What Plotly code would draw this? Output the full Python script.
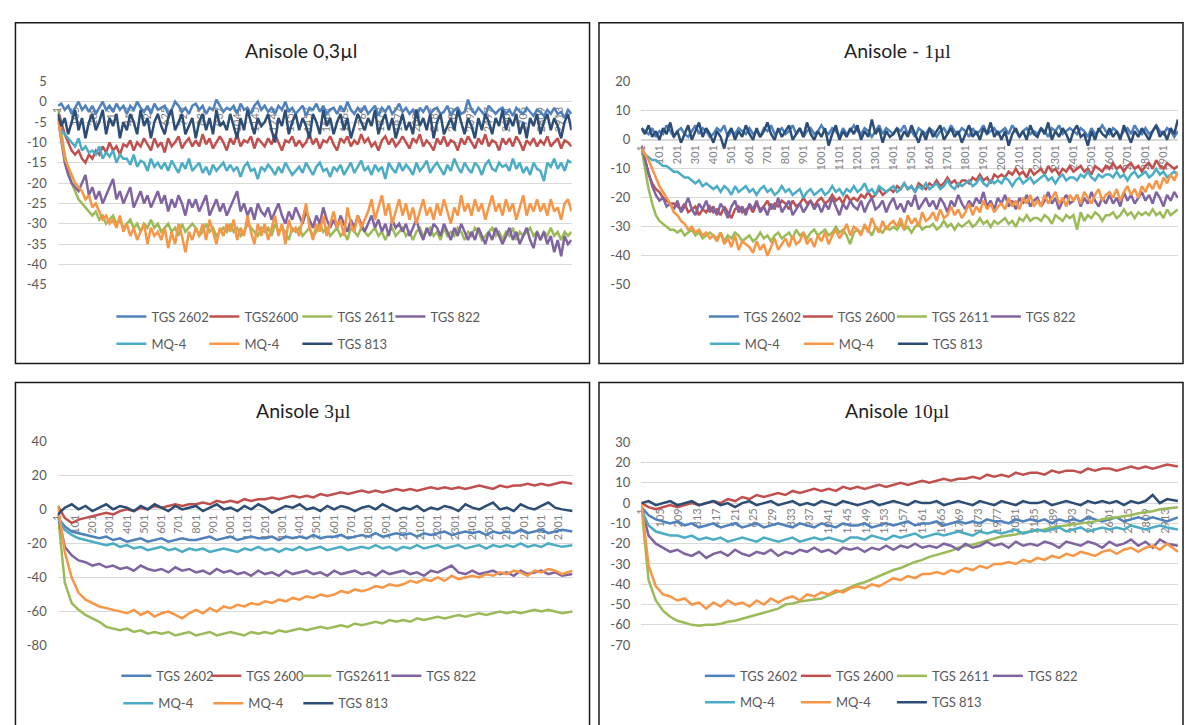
import plotly.graph_objects as go

W, H = 1186, 725

# ---------------- data ----------------
# sample (category) index of each stored reading
SAMPLES_20 = list(range(1, 2982, 20))          # 150 readings, panels 1-2
SAMPLES_40 = [1, 41, 81, 121, 161, 201, 241, 281, 321, 361, 401, 441, 481, 521, 561,
              601, 641, 681, 721, 761, 801, 841, 881, 921, 961, 1001, 1041, 1081, 1121, 1161,
              1201, 1241, 1281, 1321, 1361, 1401, 1441, 1481, 1521, 1561, 1601, 1641, 1681, 1721, 1761,
              1801, 1841, 1881, 1921, 1961, 2001, 2041, 2081, 2121, 2161, 2201, 2241, 2281, 2321, 2361,
              2401, 2441, 2481, 2521, 2561, 2601, 2641, 2681, 2721, 2761, 2801, 2841, 2881, 2921, 2981]

COLORS = ["#4F81BD", "#C0504D", "#9BBB59", "#8064A2", "#4BACC6", "#F79646", "#2C4D75"]

TITLES = [("Anisole 0,3µl", ""), ("Anisole - ", "1µl"), ("Anisole ", "3µl"), ("Anisole ", "10µl")]

NAMES_1 = ["TGS 2602", "TGS2600", "TGS 2611", "TGS 822", "MQ-4", "MQ-4", "TGS 813"]
NAMES_2 = ["TGS 2602", "TGS 2600", "TGS 2611", "TGS 822", "MQ-4", "MQ-4", "TGS 813"]
NAMES_3 = ["TGS 2602", "TGS 2600", "TGS2611", "TGS 822", "MQ-4", "MQ-4", "TGS 813"]
NAMES_4 = ["TGS 2602", "TGS 2600", "TGS 2611", "TGS 822", "MQ-4", "MQ-4", "TGS 813"]

XT_104 = ["1", "105", "209", "313", "417", "521", "625", "729", "833", "937", "1041", "1145",
          "1249", "1353", "1457", "1561", "1665", "1769", "1873", "1977", "2081", "2185", "2289",
          "2393", "2497", "2601", "2705", "2809", "2913"]
XT_100 = ["1", "101", "201", "301", "401", "501", "601", "701", "801", "901", "1001", "1101",
          "1201", "1301", "1401", "1501", "1601", "1701", "1801", "1901", "2001", "2101", "2201",
          "2301", "2401", "2501", "2601", "2701", "2801", "2901"]

YT_1 = ["5", "0", "-5", "-10", "-15", "-20", "-25", "-30", "-35", "-40", "-45"]
YT_2 = ["20", "10", "0", "-10", "-20", "-30", "-40", "-50"]
YT_3 = ["40", "20", "0", "-20", "-40", "-60", "-80"]
YT_4 = ["30", "20", "10", "0", "-10", "-20", "-30", "-40", "-50", "-60", "-70"]

# Panel 1: Anisole 0,3µl  (150 readings)
P1_TGS2602 = [
    -1, -0.5, -2, -1, -3, -1.5, 0, -2, -1, -2.5,
    -1, -3, -1.5, 0, -2, -1, -2.5, -0.5, -2, -1,
    -3, -1, -2, 0, -1.5, -2.5, -1, -3, -0.5, -2,
    -1.5, -1, -3, -2, 0, -1, -2.5, -1.5, -3, -1,
    -0.5, -2, -1, -3, -1.5, -2, 0.5, -1, -2.5, -1.5,
    -2, -1, -3, -0.5, -2, -1.5, -3, -1, 0, -2,
    -1, -2.5, -1.5, -3, -1, -2, 0, -2.5, -1.5, -3,
    -2, -1, -3.5, -1.5, -2, -0.5, -2.5, -1, -3, -2,
    -1.5, -3, -1, -2.5, 0, -2, -3, -1.5, -2.5, -1,
    -3, -2, -1, -3.5, -1.5, -2.5, -1, -3, -2, -0.5,
    -2.5, -1.5, -3, -2, -4, -1.5, -2.5, -1, -3, -2,
    -1.5, -3, -2.5, -1, -3.5, -2, -1.5, -3, -2.5, 0.5,
    -2, -3, -1.5, -2.5, -3.5, -1, -2, -3, -2, -1.5,
    -3, -2, -3.5, -1.5, -2.5, -3, -1.5, -2.5, -3.5, -2,
    -2.5, -3.5, -2, -3, -1.5, -3, -2.5, -4, -2, -3]
P1_TGS2600 = [
    -2, -5, -8, -10, -12, -13, -12, -14, -15, -13,
    -14, -12, -13, -11, -12.5, -10, -12, -11, -13, -10.5,
    -11, -9.5, -12, -10, -11, -9, -10.5, -12, -9, -11,
    -10, -12.5, -9, -11, -10, -8.5, -11.5, -10, -9, -11,
    -9.5, -11, -8, -10.5, -9, -11.5, -10, -8.5, -10, -12,
    -9, -10.5, -8, -11, -9.5, -10, -8.5, -11.5, -9, -10,
    -11, -9, -10.5, -8, -10, -12, -9.5, -10, -8.5, -11,
    -9.5, -11, -10, -8, -10.5, -9, -11.5, -9.5, -10, -8.5,
    -10.5, -12, -9, -10, -8.5, -11, -9.5, -10.5, -8, -10,
    -9, -11, -10, -12, -9.5, -8.5, -10.5, -9, -11, -10,
    -8.5, -10, -11.5, -9, -10, -8, -11, -9.5, -10.5, -12,
    -9, -10.5, -8.5, -11, -9.5, -10, -12, -9, -10.5, -8.5,
    -10, -11.5, -9, -10.5, -8, -11, -9.5, -10, -12, -9,
    -10.5, -9, -11, -8.5, -10, -12, -9.5, -10.5, -9, -11,
    -9.5, -10.5, -8.5, -11, -10, -9, -11.5, -9.5, -10, -11]
P1_TGS2611 = [
    -2, -8, -13, -17, -20, -22, -24, -25, -26, -27,
    -28, -27, -29, -28, -30, -29, -28, -30, -29, -31,
    -30, -29, -31, -30, -32, -30, -31, -29, -31, -30,
    -32, -31, -30, -32, -31, -33, -30, -32, -31, -30,
    -31, -33, -32, -30, -32, -31, -33, -32, -31, -32,
    -30, -32, -31, -33, -32, -30, -31, -32, -33, -31,
    -32, -31, -33, -30, -32, -31, -32, -34, -31, -32,
    -31, -33, -32, -31, -33, -32, -30, -32, -31, -33,
    -32, -31, -33, -32, -34, -31, -32, -33, -31, -32,
    -33, -32, -31, -33, -32, -34, -32, -31, -33, -32,
    -31, -33, -32, -34, -32, -31, -33, -32, -31, -33,
    -32, -34, -31, -33, -32, -33, -31, -32, -34, -32,
    -33, -31, -32, -34, -33, -32, -31, -33, -32, -34,
    -32, -33, -31, -34, -32, -33, -32, -31, -33, -32,
    -34, -32, -33, -31, -33, -32, -34, -32, -33, -32]
P1_TGS822 = [
    -4, -10, -15, -18, -20, -21, -22, -20, -18, -23,
    -21, -24, -22, -25, -23, -21, -19, -24, -22, -25,
    -23, -21, -26, -24, -22, -25, -23, -26, -24, -22,
    -25, -23, -27, -24, -26, -23, -25, -28, -24, -26,
    -24, -27, -25, -23, -28, -26, -24, -27, -25, -28,
    -26, -24, -22, -27, -25, -28, -26, -29, -25, -27,
    -28, -26, -29, -27, -25, -28, -30, -27, -29, -26,
    -28, -30, -27, -29, -31, -28, -30, -26, -29, -31,
    -29, -31, -28, -30, -32, -29, -31, -28, -30, -32,
    -30, -28, -31, -29, -32, -30, -33, -29, -31, -30,
    -32, -30, -33, -31, -29, -32, -34, -31, -33, -30,
    -31, -33, -30, -32, -34, -31, -33, -30, -32, -34,
    -32, -34, -31, -33, -35, -32, -34, -31, -33, -35,
    -33, -31, -34, -32, -35, -33, -31, -34, -36, -32,
    -34, -32, -35, -33, -37, -34, -38, -33, -35, -34]
P1_MQ4A = [
    -5, -7, -8, -9, -10, -11, -9, -12, -11, -12.5,
    -12, -13, -11, -14, -12.5, -13.5, -12, -15, -13, -14,
    -14, -15.5, -13, -16, -14.5, -15, -17, -14, -16, -15,
    -16.5, -15, -17, -14.5, -16, -17.5, -15, -16.5, -14, -17,
    -16, -15, -17.5, -16, -18, -15.5, -17, -16, -15, -17,
    -15.5, -17, -16, -18.5, -16, -15, -17, -16.5, -19, -16,
    -17, -15.5, -16.5, -18, -16, -17.5, -15, -16.5, -18, -17,
    -16, -17.5, -15, -16.5, -18, -16, -15, -17, -16.5, -18.5,
    -16, -17, -15.5, -18, -16.5, -15, -17.5, -16, -14.5, -17,
    -16, -18, -15.5, -17, -16, -19, -15, -16.5, -17.5, -15,
    -17, -15.5, -16.5, -18, -15, -17, -16, -14.5, -17.5, -16,
    -15, -16.5, -18, -15.5, -17, -14, -16, -17.5, -15, -16.5,
    -17.5, -15, -16, -18, -15.5, -14.5, -16.5, -17, -15, -16,
    -15.5, -17, -14, -16.5, -15, -17.5, -16, -18, -15, -16.5,
    -17, -19.5, -15, -16, -14, -16.5, -15, -17, -14.5, -15]
P1_MQ4B = [
    -4, -9, -14, -16, -18, -20, -21, -22, -24, -23,
    -26, -25, -27, -29, -28, -30, -29, -31, -28, -32,
    -30, -33, -31, -34, -32, -30, -35, -31, -33, -32,
    -34, -31, -36, -32, -35, -30, -33, -37, -32, -34,
    -31, -33, -30, -34, -29, -32, -35, -31, -33, -30,
    -32, -29, -34, -31, -33, -28, -32, -35, -30, -33,
    -30, -34, -31, -28, -33, -30, -35, -29, -32, -31,
    -33, -29, -25, -31, -34, -30, -32, -28, -33, -30,
    -27, -31, -29, -33, -26, -30, -32, -28, -31, -29,
    -27, -24, -29, -26, -23, -28, -25, -30, -27, -24,
    -28, -25, -29, -26, -30, -27, -24, -28, -26, -29,
    -25, -28, -24, -27, -30, -26, -28, -23, -27, -25,
    -28, -24, -27, -25, -29, -26, -23, -27, -25, -28,
    -24, -27, -25, -29, -26, -23, -28, -25, -27, -24,
    -27, -25, -28, -24, -27, -26, -29, -25, -24, -27]
P1_TGS813 = [
    -3, -6, -4, -8, -5, -2, -7, -4, -9, -5,
    -3, -7, -5, -2, -8, -4, -6, -3, -9, -5,
    -7, -3, -5, -8, -2, -6, -4, -9, -5, -3,
    -6, -8, -4, -2, -7, -5, -3, -8, -6, -4,
    -9, -5, -3, -7, -4, -8, -2, -6, -5, -7,
    -3, -6, -9, -4, -7, -2, -5, -8, -4, -6,
    -5, -3, -7, -10, -4, -6, -2, -8, -5, -3,
    -7, -4, -6, -9, -3, -5, -8, -2, -6, -4,
    -8, -5, -3, -7, -4, -9, -6, -3, -5, -7,
    -4, -6, -2, -8, -5, -3, -7, -4, -9, -6,
    -3, -7, -5, -8, -2, -6, -4, -7, -3, -9,
    -5, -3, -8, -6, -4, -7, -2, -5, -8, -4,
    -6, -9, -4, -7, -3, -5, -8, -4, -6, -2,
    -7, -4, -6, -3, -8, -5, -9, -4, -6, -3,
    -8, -5, -3, -7, -4, -6, -9, -5, -3, -7]

# Panel 2: Anisole - 1µl  (150 readings)
P2_TGS2602 = [
    4, 3, 2, 4, 1, 3, 2, 5, 3, 1,
    3, 4, 2, 1, 3, 5, 2, 4, 3, 1,
    2, 4, 3, 5, 1, 3, 2, 4, 3, 2,
    4, 2, 3, 1, 4, 3, 5, 2, 3, 4,
    2, 3, 5, 2, 4, 1, 3, 4, 2, 3,
    5, 3, 2, 4, 3, 1, 4, 2, 3, 5,
    3, 2, 4, 3, 1, 3, 5, 2, 4, 3,
    2, 4, 3, 5, 2, 3, 1, 4, 3, 2,
    4, 3, 1, 3, 4, 2, 5, 3, 2, 4,
    3, 1, 4, 2, 3, 5, 2, 3, 4, 2,
    3, 4, 2, 5, 3, 1, 3, 4, 2, 3,
    2, 4, 3, 1, 4, 3, 5, 2, 3, 4,
    3, 2, 4, 3, 1, 4, 2, 3, 5, 3,
    2, 4, 3, 1, 3, 4, 2, 5, 3, 2,
    4, 2, 3, 5, 3, 2, 4, 3, 1, 3]
P2_TGS2600 = [
    -4, -7, -12, -15, -17, -18, -20, -21, -22, -22,
    -23, -24, -22, -25, -24, -23, -26, -24, -25, -23,
    -25, -24, -26, -23, -25, -27, -24, -23, -25, -24,
    -23, -25, -22, -24, -23, -21, -24, -22, -23, -21,
    -22, -24, -21, -23, -22, -20, -22, -21, -23, -21,
    -20, -22, -21, -19, -21, -20, -22, -19, -21, -20,
    -21, -19, -20, -18, -20, -19, -17, -19, -18, -17,
    -18, -16, -17, -15, -17, -16, -18, -15, -16, -17,
    -15, -16, -14, -16, -15, -13, -15, -14, -16, -14,
    -14, -15, -13, -14, -12, -14, -13, -15, -12, -13,
    -12, -13, -11, -12, -10, -12, -11, -13, -10, -12,
    -11, -10, -12, -9, -11, -10, -12, -10, -11, -9,
    -11, -10, -9, -11, -10, -12, -9, -10, -11, -9,
    -10, -8, -10, -9, -11, -9, -8, -10, -9, -11,
    -9, -8, -10, -7, -9, -10, -8, -9, -10, -9]
P2_TGS2611 = [
    -3, -10, -17, -22, -26, -28, -29, -30, -31, -31,
    -32, -31, -33, -32, -31, -33, -32, -34, -33, -32,
    -33, -34, -32, -35, -33, -34, -32, -33, -35, -34,
    -33, -35, -34, -32, -34, -33, -35, -33, -32, -34,
    -33, -32, -34, -31, -33, -32, -34, -32, -31, -33,
    -32, -31, -33, -32, -30, -32, -31, -33, -36, -32,
    -31, -32, -30, -31, -33, -30, -31, -32, -30, -31,
    -30, -31, -29, -31, -30, -32, -30, -29, -31, -30,
    -30, -29, -31, -30, -28, -30, -29, -31, -29, -30,
    -29, -28, -30, -29, -27, -29, -28, -30, -28, -29,
    -28, -27, -29, -28, -30, -27, -28, -26, -28, -27,
    -27, -28, -26, -27, -29, -26, -27, -28, -26, -27,
    -26, -31, -25, -28, -26, -27, -25, -26, -28, -26,
    -26, -25, -27, -26, -24, -26, -25, -27, -25, -26,
    -25, -26, -24, -26, -25, -27, -24, -26, -25, -24]
P2_TGS822 = [
    -2, -7, -12, -16, -19, -21, -20, -23, -22, -24,
    -21, -25, -23, -20, -24, -26, -22, -24, -21, -25,
    -23, -26, -22, -24, -27, -23, -21, -25, -23, -26,
    -22, -24, -21, -25, -23, -26, -22, -24, -20, -25,
    -23, -21, -26, -24, -22, -25, -23, -21, -24, -22,
    -25, -22, -24, -20, -23, -26, -22, -24, -21, -23,
    -24, -21, -25, -22, -20, -24, -23, -21, -25, -22,
    -20, -24, -22, -25, -21, -23, -19, -24, -22, -20,
    -23, -21, -24, -20, -22, -25, -21, -23, -19, -22,
    -24, -21, -23, -20, -22, -18, -23, -21, -24, -20,
    -22, -19, -23, -21, -24, -20, -22, -19, -23, -21,
    -20, -23, -21, -18, -22, -20, -24, -21, -19, -22,
    -21, -19, -23, -20, -22, -18, -21, -23, -20, -22,
    -19, -22, -20, -23, -18, -21, -19, -22, -20, -18,
    -21, -19, -22, -18, -20, -23, -19, -21, -18, -20]
P2_MQ4A = [
    -3, -5, -6, -7, -7, -8, -9, -9, -10, -11,
    -11, -12, -13, -13, -14, -15, -14, -16, -15, -16,
    -17, -16, -18, -16, -17, -19, -16, -18, -17, -16,
    -18, -17, -19, -17, -16, -18, -17, -19, -18, -16,
    -18, -17, -19, -18, -17, -20, -18, -17, -19, -18,
    -17, -19, -18, -16, -18, -17, -19, -17, -18, -16,
    -18, -17, -15, -18, -17, -19, -16, -17, -18, -17,
    -16, -18, -17, -15, -17, -16, -18, -16, -17, -15,
    -17, -16, -15, -17, -16, -14, -16, -17, -15, -16,
    -15, -14, -16, -15, -13, -15, -16, -14, -15, -14,
    -15, -13, -14, -16, -14, -13, -15, -14, -13, -15,
    -14, -13, -12, -14, -13, -15, -13, -12, -14, -13,
    -13, -14, -12, -13, -11, -13, -14, -12, -13, -12,
    -12, -13, -11, -13, -12, -14, -12, -11, -13, -12,
    -11, -13, -12, -10, -12, -11, -13, -12, -11, -12]
P2_MQ4B = [
    -3, -5, -7, -10, -13, -16, -18, -20, -22, -25,
    -26, -28, -29, -31, -30, -32, -31, -33, -32, -34,
    -33, -35, -32, -36, -34, -37, -33, -38, -35, -36,
    -37, -39, -35, -38, -36, -40, -37, -34, -38, -36,
    -34, -37, -33, -36, -35, -32, -36, -34, -37, -33,
    -35, -32, -36, -33, -31, -34, -32, -29, -33, -30,
    -31, -33, -29, -32, -27, -30, -32, -28, -31, -29,
    -28, -30, -27, -31, -26, -29, -27, -30, -25, -28,
    -27, -25, -28, -24, -27, -26, -23, -26, -24, -27,
    -25, -22, -26, -23, -25, -21, -24, -22, -25, -23,
    -22, -24, -20, -23, -21, -24, -20, -22, -19, -23,
    -21, -23, -19, -22, -20, -18, -22, -20, -23, -19,
    -21, -19, -22, -18, -20, -22, -19, -17, -21, -19,
    -18, -20, -17, -21, -18, -16, -19, -17, -20, -16,
    -18, -15, -17, -14, -17, -13, -15, -12, -14, -11]
P2_TGS813 = [
    4, 2, 5, 1, 3, 0, 4, 2, 6, 1,
    3, -1, 2, 5, 0, 3, 6, 1, 4, 2,
    -1, 3, 1, -3, 2, 4, 0, 3, 1, 5,
    2, 0, 4, 1, 3, 6, 2, 0, 4, 1,
    3, 5, 0, 2, 4, 1, 6, 2, 0, 3,
    1, 4, -2, 2, 5, 0, 3, 1, 4, 2,
    5, 0, 3, 1, 7, 2, 4, -1, 3, 1,
    2, 4, 0, 3, 1, 5, 2, -1, 3, 0,
    4, 1, 3, 5, 0, 2, 4, 1, 3, -1,
    2, 5, 1, 3, 0, 4, 2, 6, 1, 3,
    0, 3, -2, 2, 4, 1, 3, 0, 5, 2,
    1, 4, 2, 6, 0, 3, 1, 4, 2, -1,
    3, 5, 1, 2, -2, 3, 0, 4, 2, 1,
    4, 1, 3, 0, 5, 2, -1, 3, 1, 4,
    2, 0, 3, 5, 1, 3, 0, 4, 2, 7]

# Panel 3: Anisole 3µl  (75 readings)
P3_TGS2602 = [-5, -10, -13, -14, -15, -16, -17, -16, -18, -17, -19, -18, -17, -19, -18, -17, -19, -18, -17, -18,
              -18, -17, -16, -18, -17, -16, -18, -17, -16, -17, -17, -16, -18, -16, -17, -16, -17, -15, -17, -16,
              -16, -15, -17, -16, -15, -16, -14, -16, -15, -14, -15, -14, -16, -14, -15, -14, -13, -15, -14, -13,
              -14, -13, -15, -13, -14, -13, -14, -12, -14, -13, -12, -14, -13, -12, -13]
P3_TGS2600 = [2, -5, -8, -6, -5, -4, -3, -2, -3, -1, 0, -1, 1, 0, 2, 1, 2, 3, 2, 3,
              3, 4, 3, 5, 4, 5, 4, 6, 5, 6, 6, 7, 6, 7, 8, 7, 8, 7, 9, 8,
              9, 10, 9, 10, 11, 10, 11, 10, 11, 12, 11, 12, 11, 12, 13, 12, 13, 12, 13, 12,
              13, 14, 13, 12, 14, 13, 14, 14, 15, 14, 15, 14, 15, 16, 15]
P3_TGS2611 = [-3, -43, -55, -59, -62, -64, -66, -69, -70, -71, -70, -72, -71, -73, -72, -73, -72, -74, -73, -72,
              -74, -73, -72, -74, -73, -72, -73, -74, -72, -73, -72, -73, -71, -72, -71, -70, -71, -70, -69, -70,
              -69, -68, -69, -67, -68, -67, -66, -67, -65, -66, -65, -66, -64, -65, -64, -63, -64, -63, -62, -63,
              -62, -61, -62, -61, -60, -61, -60, -61, -60, -59, -60, -59, -60, -61, -60]
P3_TGS822 = [-3, -22, -27, -30, -31, -33, -32, -34, -33, -35, -34, -36, -33, -35, -36, -35, -37, -34, -36, -35,
             -37, -36, -38, -35, -37, -36, -38, -37, -39, -36, -38, -37, -39, -36, -38, -37, -36, -38, -37, -39,
             -36, -38, -37, -36, -38, -37, -39, -36, -38, -37, -36, -38, -37, -39, -36, -37, -35, -33, -37, -38,
             -36, -38, -37, -36, -38, -37, -39, -36, -38, -37, -36, -38, -37, -39, -38]
P3_MQ4A = [-5, -12, -15, -17, -18, -19, -20, -21, -20, -22, -21, -23, -22, -24, -23, -22, -24, -23, -25, -23,
           -24, -23, -25, -24, -23, -24, -25, -23, -24, -22, -24, -23, -25, -23, -24, -22, -24, -23, -22, -24,
           -23, -22, -24, -23, -22, -23, -21, -23, -22, -24, -22, -23, -21, -23, -22, -21, -23, -22, -21, -23,
           -22, -21, -23, -21, -22, -21, -22, -20, -22, -21, -22, -20, -21, -22, -21]
P3_MQ4B = [2, -25, -40, -49, -53, -55, -57, -58, -59, -60, -61, -59, -62, -60, -63, -61, -60, -62, -64, -61,
           -59, -61, -58, -60, -57, -58, -56, -57, -55, -56, -54, -55, -53, -54, -52, -53, -51, -52, -50, -51,
           -50, -48, -49, -47, -48, -47, -45, -46, -44, -45, -44, -42, -43, -41, -42, -40, -42, -39, -41, -40,
           -39, -40, -38, -39, -37, -38, -36, -37, -39, -36, -37, -35, -36, -38, -36]
P3_TGS813 = [-3, 1, 3, 0, 2, -1, 1, 3, 0, 2, 1, -1, 2, 0, 3, 1, -1, 2, 0, 1,
             2, -1, 1, 3, 0, 1, -1, 2, 0, 3, 1, -2, 0, 2, 1, 3, 0, 1, -1, 2,
             0, 2, 1, -1, 1, 2, 0, 3, 1, -1, 1, 0, 2, -1, 1, 0, 2, 1, -1, 3,
             1, 0, 2, 4, 0, 1, -1, 3, 1, 0, 2, 4, 1, 0, -1]

# Panel 4: Anisole 10µl  (75 readings)
P4_TGS2602 = [-2, -6, -8, -9, -10, -9, -11, -10, -12, -11, -10, -12, -11, -10, -12, -11, -10, -12, -11, -10,
              -11, -12, -10, -11, -12, -10, -11, -12, -10, -11, -11, -10, -12, -11, -10, -11, -10, -9, -11, -10,
              -10, -9, -11, -10, -9, -10, -9, -10, -8, -9, -9, -10, -8, -9, -8, -9, -8, -10, -8, -9,
              -8, -9, -7, -8, -9, -8, -7, -9, -8, -7, -8, -7, -8, -9, -7]
P4_TGS2600 = [0, -2, -3, -2, -1, -2, -1, 0, -1, 0, 1, 0, 2, 1, 3, 2, 4, 3, 4, 5,
              4, 6, 5, 6, 7, 6, 7, 6, 8, 7, 8, 7, 8, 9, 8, 9, 10, 9, 10, 11,
              10, 11, 12, 11, 12, 12, 13, 12, 14, 13, 14, 13, 15, 14, 15, 15, 14, 16, 15, 16,
              16, 15, 17, 16, 17, 17, 16, 17, 18, 17, 18, 17, 18, 19, 18]
P4_TGS2611 = [-2, -38, -48, -53, -56, -58, -59, -60, -60.5, -60, -60, -59.5, -58.5, -58, -57, -56, -55, -54, -53, -52,
              -50, -49.5, -48.5, -48, -47.5, -47, -45.5, -44, -43, -41.5, -40, -39, -37.5, -36, -34.5, -33, -32, -30.5, -29, -28,
              -26.5, -25.5, -24.5, -23.5, -22, -21, -20.5, -19.5, -18.5, -17.5, -16.5, -16, -15.5, -14.5, -14, -13.5, -13, -12, -11.5, -11,
              -10.5, -10, -9.5, -9, -8, -7.5, -7, -6.5, -6, -5, -4.5, -4, -3, -2.5, -2]
P4_TGS822 = [-2, -16, -20, -22, -24, -23, -25, -26, -24, -27, -25, -24, -26, -23, -25, -26, -24, -25, -23, -26,
             -24, -25, -23, -24, -22, -24, -23, -25, -22, -23, -22, -24, -22, -23, -21, -23, -21, -22, -20, -22,
             -21, -22, -20, -21, -23, -20, -22, -21, -19, -21, -20, -22, -19, -21, -20, -21, -19, -20, -22, -19,
             -20, -21, -19, -20, -22, -19, -21, -20, -18, -21, -19, -22, -18, -20, -21]
P4_MQ4A = [-3, -11, -14, -15, -16, -16, -17, -16, -18, -17, -18, -17, -19, -18, -17, -18, -19, -17, -18, -19,
           -18, -17, -19, -18, -17, -18, -17, -18, -19, -17, -17, -18, -16, -17, -18, -16, -17, -16, -15, -17,
           -16, -15, -16, -15, -14, -15, -16, -14, -15, -14, -15, -14, -13, -15, -14, -13, -14, -13, -12, -14,
           -13, -12, -14, -13, -12, -13, -12, -13, -11, -12, -13, -12, -11, -12, -13]
P4_MQ4B = [0, -31, -41, -45, -46, -48, -47, -50, -49, -52, -49, -51, -48, -50, -49, -51, -48, -50, -47, -49,
           -47, -46, -48, -45, -46, -44, -45, -43, -44, -42, -41, -42, -40, -41, -39, -37, -38, -36, -37, -35,
           -35, -34, -35, -33, -34, -32, -33, -31, -32, -30, -30, -29, -30, -28, -29, -27, -28, -26, -27, -25,
           -26, -24, -25, -26, -24, -23, -25, -23, -22, -24, -22, -21, -23, -20, -24]
P4_TGS813 = [0, 1, -1, 0, 1, -1, 0, 1, -1, 0, 1, -1, 0, -2, 0, 1, -1, 0, 1, -1,
             0, 1, -1, 0, -1, 1, 0, -1, 1, 0, -1, 0, 1, -1, 0, 1, 0, -1, 1, 0,
             0, 1, -1, 0, 1, 0, -1, 1, 0, -1, 1, 0, -1, 1, 0, 0, 1, -1, 0, 1,
             0, -1, 1, 0, 1, 0, 1, -1, 1, 0, 1, 4, 0, 2, 1]

PANEL_SAMPLES = [SAMPLES_20, SAMPLES_20, SAMPLES_40, SAMPLES_40]
PANEL_SERIES = [
    [P1_TGS2602, P1_TGS2600, P1_TGS2611, P1_TGS822, P1_MQ4A, P1_MQ4B, P1_TGS813],
    [P2_TGS2602, P2_TGS2600, P2_TGS2611, P2_TGS822, P2_MQ4A, P2_MQ4B, P2_TGS813],
    [P3_TGS2602, P3_TGS2600, P3_TGS2611, P3_TGS822, P3_MQ4A, P3_MQ4B, P3_TGS813],
    [P4_TGS2602, P4_TGS2600, P4_TGS2611, P4_TGS822, P4_MQ4A, P4_MQ4B, P4_TGS813],
]
PANEL_NAMES = [NAMES_1, NAMES_2, NAMES_3, NAMES_4]
PANEL_XT = [XT_104, XT_100, XT_100, XT_104]
PANEL_YT = [YT_1, YT_2, YT_3, YT_4]

# ---------------- layout geometry (pixels) ----------------
BOXES = [(51, 568, 74.5, 283), (638, 1178, 75, 283), (51, 569, 442, 651.5), (638, 1178, 443, 651)]
BORDERS = [(8.5, 586, 15, 363), (595.5, 1183, 15, 363), (8.5, 586, 382.5, 740), (595.5, 1183, 382.5, 740)]
TITLE_POS = [(296, 43), (896, 43), (298, 411), (896, 411)]
LEG_ROWS = [((116, 315), (116, 343), 93), ((712, 315), (713, 343), 94),
            ((121, 682), (123, 710), 90), ((708, 682), (708, 709), 96)]
X_RANGE = [0, 2982]

FONT = "Lato"
GRAY = "#595959"
GRID = "#d9d9d9"

fig = go.Figure()
layout = dict(width=W, height=H, autosize=False, margin=dict(l=0, r=0, t=0, b=0),
              paper_bgcolor="white", plot_bgcolor="white", showlegend=True,
              font=dict(family=FONT, color=GRAY), annotations=[], shapes=[])

for k in range(4):
    suf = "" if k == 0 else str(k + 1)
    xa, ya = "x" + suf, "y" + suf
    x0, x1, yt, yb = BOXES[k]
    yvals = [float(v) for v in PANEL_YT[k]]
    ymin, ymax = min(yvals), max(yvals)
    span = ymax - ymin
    dom_y = [1 - yb / H, 1 - yt / H]
    zero_pos = dom_y[0] + (0 - ymin) / span * (dom_y[1] - dom_y[0])

    leg1 = "legend" if k == 0 else "legend" + str(2 * k + 1)
    leg2 = "legend" + str(2 * k + 2)
    for j, (name, vals) in enumerate(zip(PANEL_NAMES[k], PANEL_SERIES[k])):
        fig.add_trace(go.Scatter(
            x=PANEL_SAMPLES[k], y=vals, name=name, mode="lines",
            line=dict(color=COLORS[j], width=2.5),
            xaxis=xa, yaxis=ya, legend=leg1 if j < 4 else leg2,
            hoverinfo="skip"))

    layout["xaxis" + suf] = dict(
        domain=[x0 / W, x1 / W], range=X_RANGE, anchor="free", position=zero_pos,
        tickmode="array", tickvals=[int(t) for t in PANEL_XT[k]], ticktext=PANEL_XT[k],
        tickangle=-90, tickfont=dict(family=FONT, size=11, color="#7f7f7f"),
        showgrid=False, showline=True, linecolor=GRID, linewidth=1, ticks="",
        zeroline=False, layer="below traces", fixedrange=True)
    layout["yaxis" + suf] = dict(
        domain=dom_y, range=[ymin - span * 0.002, ymax + span * 0.002], anchor=xa,
        tickmode="array", tickvals=yvals, ticktext=PANEL_YT[k],
        tickfont=dict(family=FONT, size=13, color=GRAY),
        showgrid=True, gridcolor=GRID, gridwidth=1, zeroline=False, showline=False,
        ticks="", ticklabelstandoff=10, fixedrange=True)

    (lx1, ly1), (lx2, ly2), sp = LEG_ROWS[k]
    for legname, lx, ly in ((leg1, lx1, ly1), (leg2, lx2, ly2)):
        layout[legname] = dict(
            orientation="h", x=(lx - 11) / W, xanchor="left", y=1 - ly / H, yanchor="middle",
            bgcolor="rgba(0,0,0,0)", borderwidth=0, font=dict(family=FONT, size=13, color=GRAY),
            entrywidth=sp - 45, entrywidthmode="pixels", itemwidth=30, traceorder="normal",
            tracegroupgap=0)

    a, b = TITLES[k]
    txt = a if not b else a + "<span style='font-family:Liberation Serif'>" + b + "</span>"
    tx, ty = TITLE_POS[k]
    layout["annotations"].append(dict(
        text=txt, x=tx / W, y=1 - ty / H, xref="paper", yref="paper",
        xanchor="center", yanchor="middle", showarrow=False,
        font=dict(family=FONT, size=19.5, color="#1f1f1f")))

    bx0, bx1, by0, by1 = BORDERS[k]
    layout["shapes"].append(dict(
        type="rect", xref="paper", yref="paper", x0=bx0 / W, x1=bx1 / W,
        y0=1 - by1 / H, y1=1 - by0 / H, line=dict(color="#1a1a1a", width=1.5),
        fillcolor="rgba(0,0,0,0)", layer="above"))

fig.update_layout(**layout)
fig.write_html("out.html")
